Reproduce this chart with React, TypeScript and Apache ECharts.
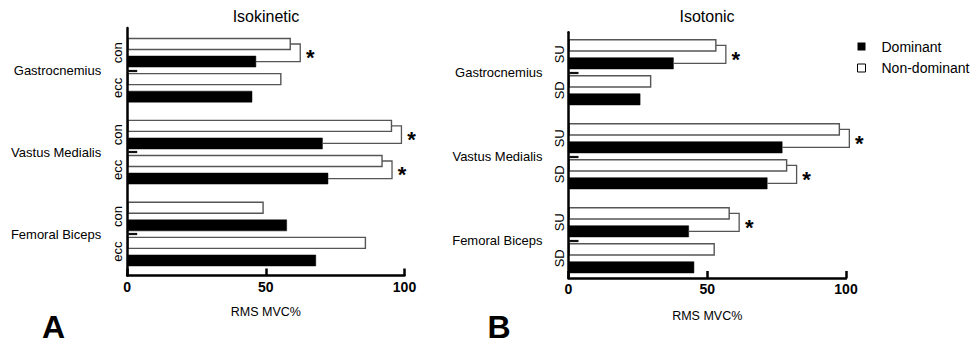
import React, { useEffect, useRef } from 'react';
import * as echarts from 'echarts';

// ---------- data ----------
const muscles = ['Gastrocnemius', 'Vastus Medialis', 'Femoral Biceps'];
const isokineticConditions = ['con', 'ecc'];
const isotonicConditions = ['SU', 'SD'];
// values indexed [muscle][condition], RMS MVC%
const isokineticDominant = [[46.4, 45.0], [70.4, 72.4], [57.5, 68.0]];
const isokineticNonDominant = [[58.8, 55.4], [95.3, 91.9], [49.0, 85.9]];
const isokineticSignificant = [[true, false], [true, true], [false, false]];
const isotonicDominant = [[37.8, 25.8], [77.0, 71.6], [43.3, 45.2]];
const isotonicNonDominant = [[53.1, 29.6], [97.6, 78.6], [57.9, 52.5]];
const isotonicSignificant = [[true, false], [true, true], [true, false]];
const xTickValues = [0, 50, 100];
const panelTitles = ['Isokinetic', 'Isotonic'];
const panelLetters = ['A', 'B'];
const xAxisName = 'RMS MVC%';
const seriesNames = ['Dominant', 'Non-dominant'];

// ---------- layout / style ----------
const FONT = '"Liberation Sans", Arial, Helvetica, sans-serif';
const MUSCLE_STEP = 14;
const COND_STEP = 6;
const SIDE_STEP = 3;
const BAR_SIZE = 1.88;
const BRACKET_GAP = 3.6;

const slot = (m: number, c: number, side: number) => m * MUSCLE_STEP + c * COND_STEP + side * SIDE_STEP;

const panels = [
  {
    conds: isokineticConditions, dom: isokineticDominant, nd: isokineticNonDominant, sig: isokineticSignificant,
    grid: { left: 127.2, top: 28, width: 277.3, height: 247.5 }, yMin: -2.735, yMax: 39.57,
    titleX: 266, letterX: 53.5, nameGap: 30,
  },
  {
    conds: isotonicConditions, dom: isotonicDominant, nd: isotonicNonDominant, sig: isotonicSignificant,
    grid: { left: 568.5, top: 32.3, width: 277.5, height: 245.7 }, yMin: -2.17, yMax: 38.78,
    titleX: 707, letterX: 499, nameGap: 31,
  },
];

function buildOption() {
  const grid: any[] = [];
  const xAxis: any[] = [];
  const yAxis: any[] = [];
  const series: any[] = [];
  const title: any[] = [];

  panels.forEach((p, pi) => {
    grid.push({ ...p.grid, containLabel: false });

    xAxis.push({
      type: 'value', gridIndex: pi, min: xTickValues[0], max: xTickValues[xTickValues.length - 1],
      interval: xTickValues[1] - xTickValues[0],
      axisLine: { show: true, onZero: false, lineStyle: { color: '#000', width: 2.5 } },
      axisTick: { show: true, inside: true, length: 7, lineStyle: { color: '#000', width: 2.5 } },
      splitLine: { show: false },
      axisLabel: { color: '#000', fontSize: 14, fontWeight: 'bold', fontFamily: FONT, margin: 4 },
      name: xAxisName, nameLocation: 'middle', nameGap: p.nameGap,
      nameTextStyle: { color: '#000', fontSize: 12.5, fontFamily: FONT },
      z: 10,
    });

    const condPos: number[] = [];
    const condText = new Map<number, string>();
    const musclePos: number[] = [];
    const muscleText = new Map<number, string>();
    muscles.forEach((name, m) => {
      const sep = slot(m, 0, 0) + (COND_STEP + SIDE_STEP) / 2;
      musclePos.push(sep);
      muscleText.set(sep, name);
      p.conds.forEach((cName, c) => {
        const v = slot(m, c, 0) + SIDE_STEP / 2;
        condPos.push(v);
        condText.set(v, cName);
      });
    });

    yAxis.push({
      type: 'value', gridIndex: pi, min: p.yMin, max: p.yMax, inverse: true, position: 'left',
      axisLine: { show: true, onZero: false, lineStyle: { color: '#000', width: 2.5 } },
      axisTick: { show: true, inside: true, length: 10, customValues: musclePos, lineStyle: { color: '#111', width: 2.2 } },
      splitLine: { show: false },
      axisLabel: {
        customValues: condPos, rotate: 90, margin: 3, color: '#000', fontSize: 13, fontFamily: FONT,
        formatter: (v: number) => condText.get(v) ?? '',
      },
      z: 10,
    });
    yAxis.push({
      type: 'value', gridIndex: pi, min: p.yMin, max: p.yMax, inverse: true, position: 'left',
      axisLine: { show: false, onZero: false }, axisTick: { show: false }, splitLine: { show: false },
      axisLabel: {
        customValues: musclePos, margin: 26, color: '#000', fontSize: 13, fontFamily: FONT,
        formatter: (v: number) => muscleText.get(v) ?? '',
      },
    });

    const domData: number[][] = [];
    const ndData: number[][] = [];
    const bracketData: number[][] = [];
    muscles.forEach((_, m) => {
      p.conds.forEach((__, c) => {
        ndData.push([p.nd[m][c], slot(m, c, 0)]);
        domData.push([p.dom[m][c], slot(m, c, 1)]);
        if (p.sig[m][c]) bracketData.push([p.nd[m][c], p.dom[m][c], slot(m, c, 0), slot(m, c, 1)]);
      });
    });

    const barRender = (fill: string, stroke: string, lw: number) => (params: any, api: any) => {
      const v = api.value(0) as number;
      const pos = api.value(1) as number;
      const s = api.coord([0, pos]);
      const e = api.coord([v, pos]);
      const h = api.size([0, BAR_SIZE])[1];
      return {
        type: 'rect',
        shape: { x: s[0] + lw / 2, y: s[1] - h / 2, width: e[0] - s[0] - lw / 2, height: h },
        style: { fill, stroke, lineWidth: lw },
      };
    };

    series.push({
      type: 'custom', name: seriesNames[0], xAxisIndex: pi, yAxisIndex: pi * 2,
      encode: { x: 0, y: 1 }, data: domData, itemStyle: { color: '#000' },
      renderItem: barRender('#000', '#000', 0.5),
    });
    series.push({
      type: 'custom', name: seriesNames[1], xAxisIndex: pi, yAxisIndex: pi * 2,
      encode: { x: 0, y: 1 }, data: ndData, itemStyle: { color: '#fff', borderColor: '#000', borderWidth: 1 },
      renderItem: barRender('#fff', '#555', 1.4),
    });
    series.push({
      type: 'custom', name: 'significance', xAxisIndex: pi, yAxisIndex: pi * 2,
      encode: { x: [0, 1], y: [2, 3] }, data: bracketData,
      renderItem: (params: any, api: any) => {
        const nd = api.value(0) as number;
        const d = api.value(1) as number;
        const pn = api.value(2) as number;
        const pd = api.value(3) as number;
        const bx = Math.max(nd, d) + BRACKET_GAP;
        const a = api.coord([nd, pn]);
        const b = api.coord([bx, pn]);
        const c = api.coord([bx, pd]);
        const e = api.coord([d, pd]);
        return {
          type: 'group',
          children: [
            { type: 'polyline', shape: { points: [a, b, c, e] }, style: { stroke: '#555', lineWidth: 1.3, fill: 'none' } },
            {
              type: 'text', x: b[0] + 10, y: (b[1] + c[1]) / 2 + 5,
              style: { text: '*', font: `bold 22px ${FONT}`, align: 'center', verticalAlign: 'middle', fill: '#000' },
            },
          ],
        };
      },
    });

    title.push({
      text: panelTitles[pi], left: p.titleX, top: 8.5, textAlign: 'center', padding: 0,
      textStyle: { color: '#000', fontSize: 16, fontWeight: 'normal', fontFamily: FONT },
    });
    title.push({
      text: panelLetters[pi], left: p.letterX, top: 310.5, textAlign: 'center', padding: 0,
      textStyle: { color: '#000', fontSize: 32, fontWeight: 'bold', fontFamily: FONT },
    });
  });

  return {
    animation: false,
    backgroundColor: '#fff',
    title,
    legend: {
      orient: 'vertical', left: 857, top: 39.5, padding: 0, itemWidth: 8, itemHeight: 8, itemGap: 7.5,
      icon: 'rect', selectedMode: false,
      textStyle: { color: '#000', fontSize: 14, fontFamily: FONT, padding: [0, 0, 0, 11] },
      data: [
        { name: seriesNames[0], itemStyle: { color: '#000' } },
        { name: seriesNames[1], itemStyle: { color: '#fff', borderColor: '#000', borderWidth: 1 } },
      ],
    },
    grid, xAxis, yAxis, series,
  };
}

export default function App() {
  const ref = useRef<HTMLDivElement>(null);
  useEffect(() => {
    if (!ref.current) return;
    const chart = echarts.init(ref.current, null, { renderer: 'svg' });
    chart.setOption(buildOption() as any);
    return () => chart.dispose();
  }, []);
  return <div ref={ref} style={{ position: 'fixed', left: 0, top: 0, width: 971, height: 346 }} />;
}
